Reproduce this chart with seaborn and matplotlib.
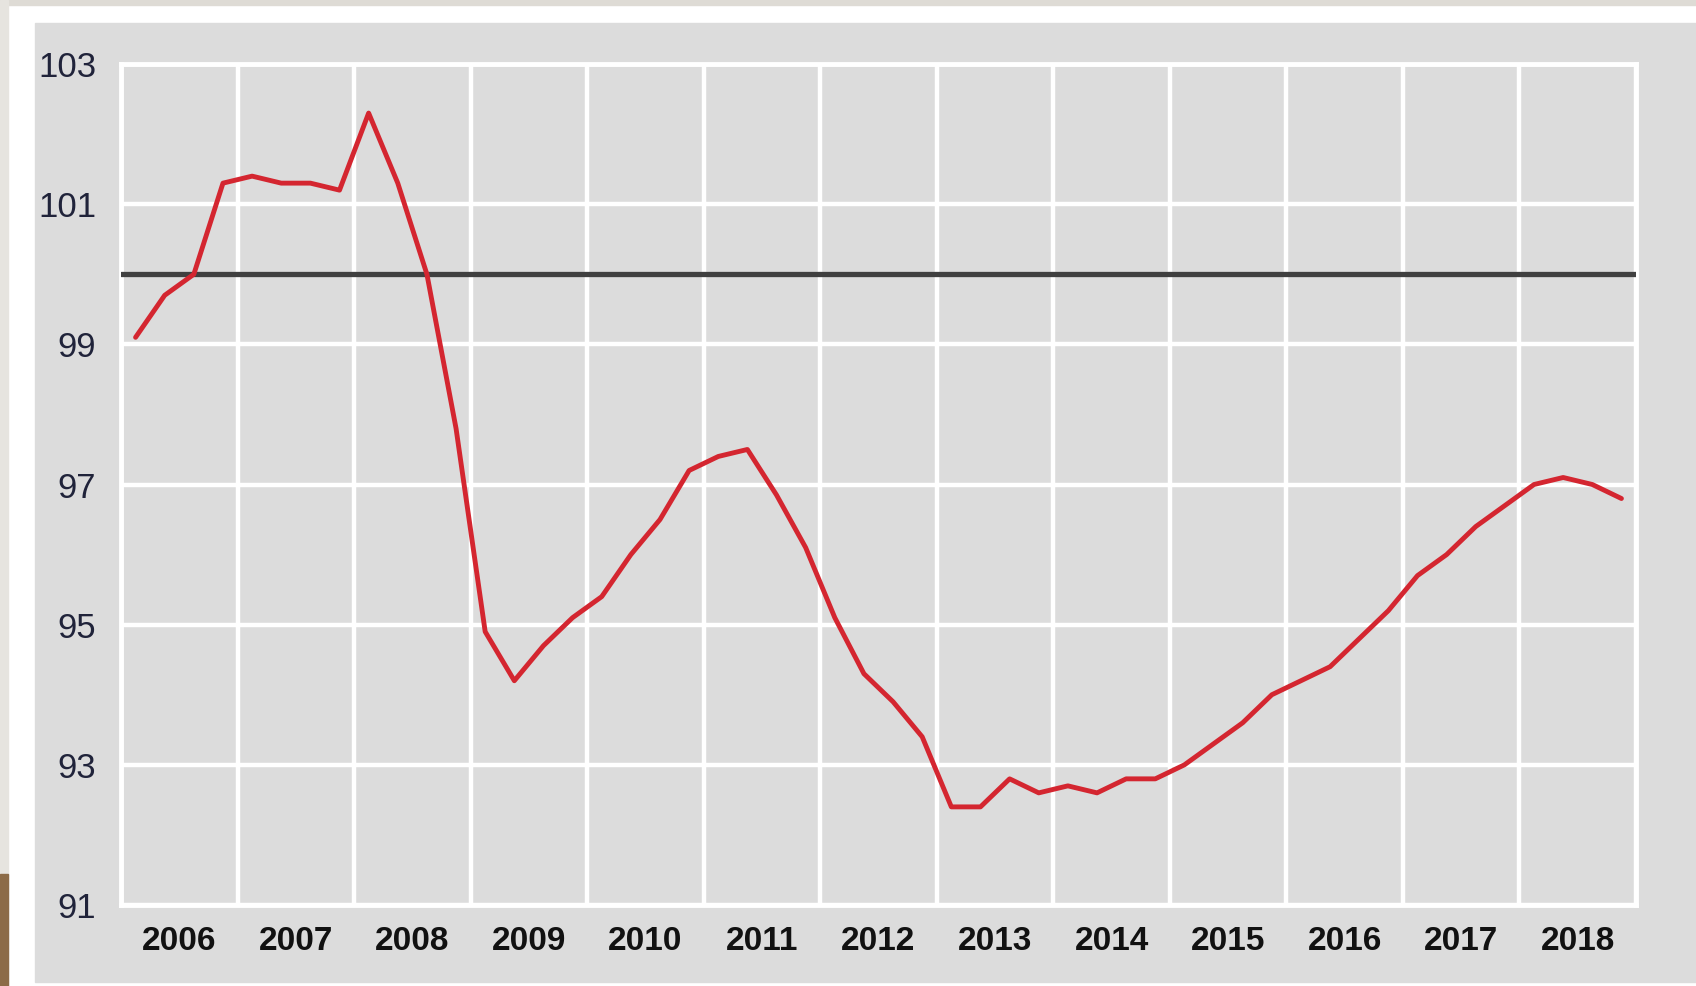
import pandas as pd
import numpy as np
import seaborn as sns
import matplotlib.pyplot as plt
import matplotlib.patches as mpatches
from matplotlib import font_manager

# quarterly index values
values = {
    2006: [99.1, 99.7, 100.0, 101.3],
    2007: [101.4, 101.3, 101.3, 101.2],
    2008: [102.3, 101.3, 100.0, 97.8],
    2009: [94.9, 94.2, 94.7, 95.1],
    2010: [95.4, 96.0, 96.5, 97.2],
    2011: [97.4, 97.5, 96.85, 96.1],
    2012: [95.1, 94.3, 93.9, 93.4],
    2013: [92.4, 92.4, 92.8, 92.6],
    2014: [92.7, 92.6, 92.8, 92.8],
    2015: [93.0, 93.3, 93.6, 94.0],
    2016: [94.2, 94.4, 94.8, 95.2],
    2017: [95.7, 96.0, 96.4, 96.7],
    2018: [97.0, 97.1, 97.0, 96.8],
}

rows = []
for year, qs in values.items():
    for q, v in enumerate(qs):
        rows.append({"t": year + (q + 0.5) / 4, "value": v})
df = pd.DataFrame(rows)

sns.set_style("white")

names = {f.name for f in font_manager.fontManager.ttflist}
narrow = "Liberation Sans Narrow" if "Liberation Sans Narrow" in names else "Liberation Sans"
plt.rcParams["font.family"] = [narrow, "DejaVu Sans"]

fig = plt.figure(figsize=(16.96, 9.86), dpi=100)
fig.patch.set_facecolor("white")

# screenshot frame: beige top / left strips and the grey panel
W, H = 1696, 986
frame = [
    ((0, 1 - 5 / H), 1, 5 / H, "#dedbd5"),
    ((0, 0), 8 / W, 1, "#e6e4df"),
    ((0, 0), 8 / W, 112 / H, "#8c6b47"),
    ((35 / W, 4 / H), 1 - 35 / W, (982 - 23) / H, "#dcdcdc"),
]
for xy, w, h, c in frame:
    fig.patches.append(mpatches.Rectangle(xy, w, h, transform=fig.transFigure,
                                          color=c, zorder=-5))

ax = fig.add_axes([121 / W, 1 - 905 / H, (1636 - 121) / W, (905 - 64) / H])
ax.set_facecolor("#dcdcdc")

sns.lineplot(data=df, x="t", y="value", ax=ax, color="#d42630", linewidth=3.5, zorder=4)
ax.axhline(100, color="#404040", linewidth=3.8, zorder=3)

ax.set_xlim(2006, 2019)
ax.set_ylim(91, 103)
ax.set_xticks(np.arange(2006, 2020))
ax.set_xticklabels([])
ax.set_xticks(np.arange(2006.5, 2019, 1), minor=True)
ax.set_xticklabels([str(y) for y in range(2006, 2019)], minor=True,
                   fontsize=24, fontweight="bold", color="#111111")
ax.set_yticks(np.arange(91, 104, 2))
ax.set_yticklabels([str(v) for v in range(91, 104, 2)], fontsize=25, color="#20233a")

ax.tick_params(axis="x", which="both", length=0, pad=15)
ax.tick_params(axis="y", length=0, pad=18)
ax.grid(True, which="major", color="white", linewidth=3.2)
ax.set_axisbelow(True)
for s in ax.spines.values():
    s.set_visible(True)
    s.set_color("white")
    s.set_linewidth(3.5)

ax.set_xlabel("")
ax.set_ylabel("")

fig.savefig("out.png", dpi=100)
